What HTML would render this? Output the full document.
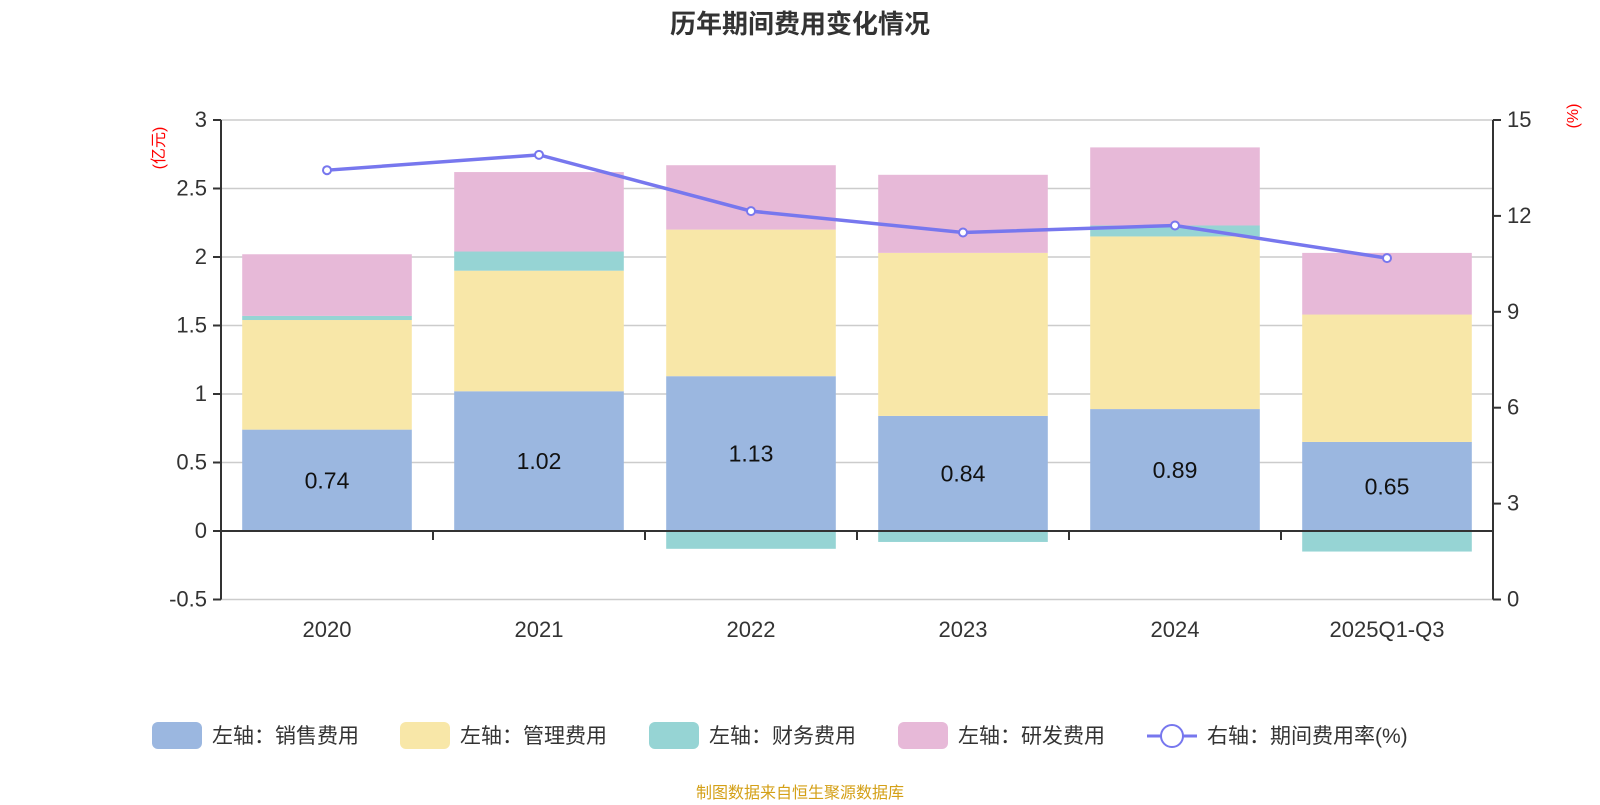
<!DOCTYPE html>
<html><head><meta charset="utf-8"><style>
body{margin:0;background:#fff;width:1600px;height:800px;overflow:hidden;font-family:"Liberation Sans","Noto Sans CJK SC",sans-serif}
</style></head><body>
<svg id="c" width="1600" height="800" xmlns="http://www.w3.org/2000/svg" font-family="Liberation Sans, Noto Sans CJK SC, sans-serif">
<text x="800" y="33" text-anchor="middle" font-size="26" font-weight="bold" fill="#333">历年期间费用变化情况</text>
<text transform="translate(164,148) rotate(-90)" text-anchor="middle" font-size="16" fill="#f00">(亿元)</text>
<text transform="translate(1578,116) rotate(-90)" text-anchor="middle" font-size="16" fill="#f00">(%)</text>
<g id="grid"></g><g id="bars"></g><g id="axes"></g><g id="line"></g>
<g id="legend" font-size="21" fill="#333">
<rect x="152" y="722" width="50" height="27" rx="6" fill="#9bb7e0"/>
<text x="212" y="743">左轴：销售费用</text>
<rect x="400" y="722" width="50" height="27" rx="6" fill="#f8e7a8"/>
<text x="460" y="743">左轴：管理费用</text>
<rect x="649" y="722" width="50" height="27" rx="6" fill="#96d4d4"/>
<text x="709" y="743">左轴：财务费用</text>
<rect x="898" y="722" width="50" height="27" rx="6" fill="#e7b9d8"/>
<text x="958" y="743">左轴：研发费用</text>
<line x1="1147" y1="736" x2="1197" y2="736" stroke="#7777ee" stroke-width="3"/>
<circle cx="1172" cy="736" r="11" fill="#fff" stroke="#7777ee" stroke-width="2"/>
<text x="1207" y="743">右轴：期间费用率(%)</text>
</g>
<text x="800" y="798" text-anchor="middle" font-size="16" fill="#d4a017">制图数据来自恒生聚源数据库</text>
</svg>
<script>
const categories=["2020","2021","2022","2023","2024","2025Q1-Q3"];
const sales=[0.74,1.02,1.13,0.84,0.89,0.65];
const admin=[0.80,0.88,1.07,1.19,1.26,0.93];
const finance=[0.03,0.14,-0.13,-0.08,0.08,-0.15];
const rd=[0.45,0.58,0.47,0.57,0.57,0.45];
const rate=[13.43,13.91,12.15,11.48,11.70,10.68];
const leftTicks=[-0.5,0,0.5,1,1.5,2,2.5,3];
const rightTicks=[0,3,6,9,12,15];
const NS="http://www.w3.org/2000/svg";
const X0=221,X1=1493,Y0=531,PX=137;
const band=(X1-X0)/categories.length;
const yL=v=>Y0-v*PX;
const yR=v=>yL(-0.5)-(v/15)*(yL(-0.5)-yL(3));
const xC=i=>X0+band*(i+0.5);
function mk(t,a,p){const e=document.createElementNS(NS,t);for(const k in a)e.setAttribute(k,a[k]);document.getElementById(p).appendChild(e);return e;}
leftTicks.forEach(v=>{
 const g=mk('line',{x1:X0,x2:X1,y1:yL(v),y2:yL(v),stroke:v===0?'#333':'#ccc','stroke-width':1.5},'grid');
 
 
 const t=mk('text',{x:X0-14,y:yL(v)+7,'text-anchor':'end','font-size':22,fill:'#333'},'axes');t.textContent=v;
 
 
 mk('line',{x1:X0-8,x2:X0,y1:yL(v),y2:yL(v),stroke:'#333','stroke-width':2},'axes');
});
rightTicks.forEach(v=>{
 const t=mk('text',{x:X1+14,y:yR(v)+7,'font-size':22,fill:'#333'},'axes');t.textContent=v;
 
 
 mk('line',{x1:X1,x2:X1+8,y1:yR(v),y2:yR(v),stroke:'#333','stroke-width':2},'axes');
});
mk('line',{x1:X0,x2:X0,y1:yL(3),y2:yL(-0.5),stroke:'#333','stroke-width':2},'axes');
mk('line',{x1:X1,x2:X1,y1:yL(3),y2:yL(-0.5),stroke:'#333','stroke-width':2},'axes');
const bw=band*0.8;
categories.forEach((c,i)=>{
 if(i>0)mk('line',{x1:X0+band*i,x2:X0+band*i,y1:Y0,y2:Y0+9,stroke:'#333','stroke-width':2},'axes');
 const t=mk('text',{x:xC(i),y:637,'text-anchor':'middle','font-size':22,fill:'#333'},'axes');t.textContent=c;
 
 
 let pos=0,neg=0;
 const segs=[[sales[i],'#9bb7e0','bar-sales'],[admin[i],'#f8e7a8','bar-admin'],[finance[i],'#96d4d4','bar-finance'],[rd[i],'#e7b9d8','bar-rd']];
 segs.forEach(([v,col,name])=>{
  let a,b;
  if(v>=0){a=pos;b=pos+v;pos=b;}else{a=neg;b=neg+v;neg=b;}
  const r=mk('rect',{x:xC(i)-bw/2,y:Math.min(yL(a),yL(b)),width:bw,height:Math.abs(yL(a)-yL(b)),fill:col},'bars');
  
  
 });
 const l=mk('text',{x:xC(i),y:yL(sales[i]/2)+8,'text-anchor':'middle','font-size':23,fill:'#111'},'bars');l.textContent=sales[i].toFixed(2);
 
 
});
mk('line',{x1:X0,x2:X1,y1:Y0,y2:Y0,stroke:'#333','stroke-width':2},'axes');
const pl=mk('polyline',{points:rate.map((v,i)=>xC(i)+','+yR(v)).join(' '),fill:'none',stroke:'#7777ee','stroke-width':3.5},'line');


rate.forEach((v,i)=>{
 const p=mk('circle',{cx:xC(i),cy:yR(v),r:4,fill:'#fff',stroke:'#7777ee','stroke-width':2},'line');
 
 
});
</script>
</body></html>
